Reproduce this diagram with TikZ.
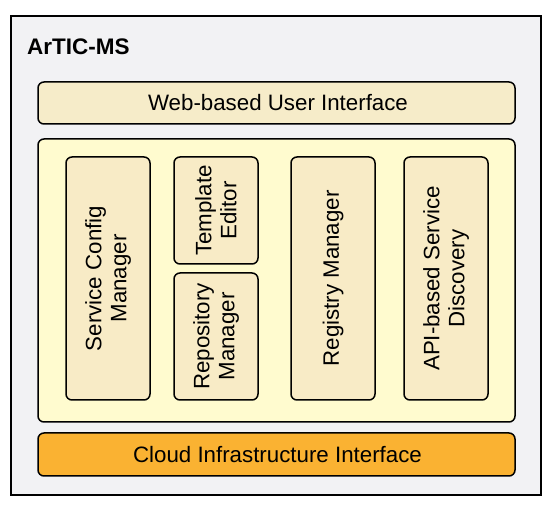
\documentclass[tikz,border=0pt]{standalone}
\usepackage{fontspec}
\setmainfont{Liberation Sans}
\definecolor{outerbg}{HTML}{F2F2F4}
\definecolor{webfill}{HTML}{F6ECC9}
\definecolor{midfill}{HTML}{FFFBCF}
\definecolor{boxfill}{HTML}{F8EBC6}
\definecolor{cloudfill}{HTML}{FAB232}
\tikzset{
  rbox/.style={draw=black, line width=1.5pt, rounded corners=6pt, inner sep=0pt},
  lbl/.style={font=\fontsize{22.3}{25}\selectfont, align=center},
}
\begin{document}
\begin{tikzpicture}[x=1pt,y=-1pt]
\useasboundingbox (0,0) rectangle (550,510);
\fill[white] (0,0) rectangle (550,510);
\draw[fill=outerbg, line width=1.5pt] (11,16) rectangle (541,495);
\node[anchor=west, inner sep=0pt, font=\fontsize{22.5}{25}\selectfont\bfseries] (title) at (27,47) {ArTIC-MS};
\draw[rbox, fill=webfill] (38,82) rectangle (515,124);
\node[lbl] (web) at (278,103) {Web-based User Interface};
\draw[rbox, fill=midfill] (38,139) rectangle (515,422);
\draw[rbox, fill=cloudfill] (38,433) rectangle (515,476);
\node[lbl] (cloud) at (277.5,455) {Cloud Infrastructure Interface};
\draw[rbox, fill=boxfill] (66,157) rectangle (150,400);
\node[lbl, rotate=90] (scm) at (108,278.5) {Service Config\\Manager};
\draw[rbox, fill=boxfill] (174,157) rectangle (258,264);
\node[lbl, rotate=90] (te) at (216,210.5) {Template\\Editor};
\draw[rbox, fill=boxfill] (174,273) rectangle (258,400);
\node[lbl, rotate=90] (rm) at (216,336.5) {Repository\\Manager};
\draw[rbox, fill=boxfill] (291,157) rectangle (375,400);
\node[lbl, rotate=90] (reg) at (333,278.5) {Registry Manager};
\draw[rbox, fill=boxfill] (404,157) rectangle (488,400);
\node[lbl, rotate=90] (api) at (446,278.5) {API-based Service\\Discovery};
\end{tikzpicture}
\end{document}
